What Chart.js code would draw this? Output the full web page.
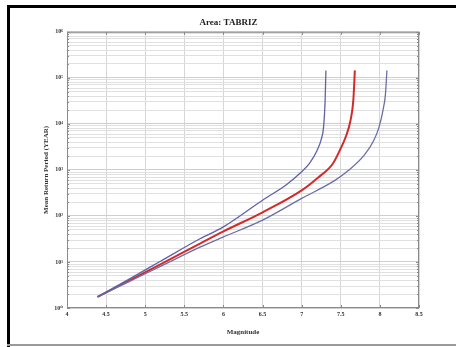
<!DOCTYPE html>
<html>
<head>
<meta charset="utf-8">
<script src="https://cdn.jsdelivr.net/npm/chart.js@4/dist/chart.umd.min.js"></script>
<style>
  html, body { margin: 0; padding: 0; background: #fff; }
  #wrap { width: 456px; height: 347px; }
</style>
</head>
<body>
<div id="wrap"><canvas id="c" width="456" height="347"></canvas></div>
<script>
// values (magnitude vs mean return period in years)
const upperMag = [4.39, 4.8, 5.2, 5.7, 6.0, 6.5, 6.8, 7.0, 7.1, 7.2, 7.25, 7.28, 7.3, 7.31];
const upperPeriod = [1.74, 4.3, 10.5, 32, 58, 220, 470, 910, 1380, 2700, 4600, 8500, 32000, 145000];

const meanMag = [4.39, 4.8, 5.2, 5.7, 6.0, 6.5, 7.0, 7.2, 7.4, 7.5, 7.57, 7.62, 7.66, 7.68];
const meanPeriod = [1.74, 4.0, 9.0, 25, 46, 120, 360, 660, 1380, 2950, 5600, 11000, 32000, 145000];

const lowerMag = [4.39, 4.8, 5.2, 5.7, 6.0, 6.5, 7.0, 7.43, 7.6, 7.8, 7.92, 7.99, 8.04, 8.07, 8.09];
const lowerPeriod = [1.74, 3.8, 8.1, 21, 35, 81, 240, 600, 980, 2100, 4300, 8600, 20000, 42000, 145000];

const xTicks = [4, 4.5, 5, 5.5, 6, 6.5, 7, 7.5, 8, 8.5];
const decades = [1, 10, 100, 1000, 10000, 100000, 1000000];
const supers = ['⁰', '¹', '²', '³', '⁴', '⁵', '⁶'];

const toPoints = (xs, ys) => xs.map((x, i) => ({ x: x, y: ys[i] }));

// every 1..9 step in each decade, like the matlab log grid
const yTickValues = [];
decades.forEach((d, i) => {
  if (i === decades.length - 1) { yTickValues.push(d); return; }
  for (let k = 1; k <= 9; k++) yTickValues.push(k * d);
});

const serif = '"Liberation Serif", "DejaVu Serif", serif';

const framePlugin = {
  id: 'frame',
  beforeDraw(chart) {
    const ctx = chart.ctx;
    ctx.save();
    ctx.fillStyle = '#fff';
    ctx.fillRect(0, 0, chart.width, chart.height);
    ctx.fillStyle = '#000';
    ctx.fillRect(7, 5, chart.width - 7, 3);
    ctx.fillRect(7, 5, 3, chart.height - 5);
    ctx.fillStyle = '#9a9a9a';
    ctx.fillRect(7, 344, chart.width - 7, 2);
    ctx.restore();
  },
  afterDatasetsDraw(chart) {
    const ctx = chart.ctx;
    const a = chart.chartArea;
    const xs = chart.scales.x, ys = chart.scales.y;
    ctx.save();
    ctx.strokeStyle = '#8a8a8a';
    ctx.lineWidth = 1;
    ctx.strokeRect(a.left + 0.5, a.top + 0.5, a.right - a.left - 1, a.bottom - a.top - 1);
    ctx.beginPath();
    xTicks.forEach(v => {
      const px = Math.round(xs.getPixelForValue(v)) + 0.5;
      ctx.moveTo(px, a.bottom); ctx.lineTo(px, a.bottom - 3);
      ctx.moveTo(px, a.top); ctx.lineTo(px, a.top + 3);
    });
    yTickValues.forEach(v => {
      const py = Math.round(ys.getPixelForValue(v)) + 0.5;
      const len = decades.includes(v) ? 3 : 2;
      ctx.moveTo(a.left, py); ctx.lineTo(a.left + len, py);
      ctx.moveTo(a.right, py); ctx.lineTo(a.right - len, py);
    });
    ctx.stroke();
    ctx.restore();
  }
};

new Chart(document.getElementById('c'), {
  type: 'line',
  data: {
    datasets: [
      {
        label: 'upper',
        data: toPoints(upperMag, upperPeriod),
        borderColor: '#5f62a8',
        borderWidth: 1.3,
        pointRadius: 0,
        cubicInterpolationMode: 'monotone'
      },
      {
        label: 'lower',
        data: toPoints(lowerMag, lowerPeriod),
        borderColor: '#6c6fa6',
        borderWidth: 1.3,
        pointRadius: 0,
        cubicInterpolationMode: 'monotone'
      },
      {
        label: 'mean',
        data: toPoints(meanMag, meanPeriod),
        borderColor: '#d42a2a',
        borderWidth: 2,
        pointRadius: 0,
        cubicInterpolationMode: 'monotone'
      }
    ]
  },
  options: {
    responsive: false,
    animation: false,
    layout: { padding: { left: 38, right: 37, top: 0, bottom: 0 } },
    plugins: {
      legend: { display: false },
      tooltip: { enabled: false },
      title: {
        display: true,
        text: 'Area: TABRIZ',
        color: '#222',
        font: { family: serif, size: 9, weight: 'bold', lineHeight: 1.2 },
        padding: { top: 17, bottom: 4 }
      }
    },
    scales: {
      x: {
        type: 'linear',
        min: 4,
        max: 8.5,
        afterBuildTicks: s => { s.ticks = xTicks.map(v => ({ value: v })); },
        afterFit: s => { s.height = 39; },
        ticks: {
          autoSkip: false,
          maxRotation: 0,
          padding: 3,
          color: '#333',
          font: { family: serif, size: 6, weight: 'bold' },
          callback: v => String(v)
        },
        grid: { color: '#d6d6d6', lineWidth: 1, drawTicks: false },
        border: { display: false },
        title: {
          display: true,
          text: 'Magnitude',
          color: '#333',
          font: { family: serif, size: 7, weight: 'bold', lineHeight: 1.2 },
          padding: { top: 0, bottom: 11 }
        }
      },
      y: {
        type: 'logarithmic',
        min: 1,
        max: 1000000,
        afterBuildTicks: s => { s.ticks = yTickValues.map(v => ({ value: v, major: decades.includes(v) })); },
        afterFit: s => { s.width = 29; },
        ticks: {
          autoSkip: false,
          padding: 4,
          color: '#333',
          font: { family: serif, size: 6, weight: 'bold' },
          callback: v => {
            const i = decades.indexOf(v);
            return i >= 0 ? '10' + supers[i] : '';
          }
        },
        grid: {
          drawTicks: false,
          color: ctx => (ctx.tick && decades.includes(ctx.tick.value)) ? '#cfcfcf' : '#e0e0e0',
          lineWidth: 1
        },
        border: { display: false },
        title: {
          display: true,
          text: 'Mean Return Period (YEAR)',
          color: '#333',
          font: { family: serif, size: 7, weight: 'bold', lineHeight: 1.2 },
          padding: { top: 4, bottom: 0 }
        }
      }
    }
  },
  plugins: [framePlugin]
});
</script>
</body>
</html>
